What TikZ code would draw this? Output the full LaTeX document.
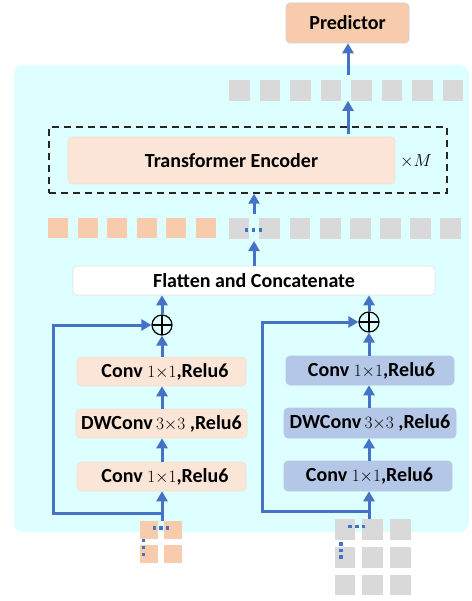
\documentclass[tikz,border=0pt]{standalone}
\usepackage{fontspec}
\setmainfont{Carlito}
\usetikzlibrary{arrows.meta}
\definecolor{cyanbg}{HTML}{DDFFFF}
\definecolor{peach}{HTML}{F8CBAD}
\definecolor{lpeach}{HTML}{FBE5D6}
\definecolor{lblue}{HTML}{B4C7E7}
\definecolor{sqgray}{HTML}{D9D9D9}
\definecolor{arrblue}{HTML}{4472C4}
\definecolor{bord}{HTML}{D0D0D0}
\tikzset{
  box/.style={rounded corners=4pt, draw=bord, line width=0.6pt, inner sep=0pt, font=\bfseries\fontsize{20}{24}\selectfont},
  arr/.style={draw=arrblue, line width=3pt, -{Triangle[length=10pt,width=11pt]}},
  sq/.style={inner sep=0pt, minimum size=20.5pt, fill=sqgray},
  psq/.style={inner sep=0pt, minimum size=20pt, fill=peach},
  dotsq/.style={fill=arrblue},
  plus/.style={circle, draw=black, line width=1.2pt, minimum size=20pt, inner sep=0pt,
    path picture={\draw[line width=1.2pt] (path picture bounding box.north) -- (path picture bounding box.south) (path picture bounding box.west) -- (path picture bounding box.east);}}
}
\newcommand{\bdot}[2]{\fill[dotsq] (#1-1.6,#2-1.6) rectangle (#1+1.6,#2+1.6);}
\newcommand{\mth}[1]{\mbox{\mdseries\fontsize{16}{18}\selectfont$#1$}}
\begin{document}
\begin{tikzpicture}[x=1pt,y=-1pt]
\useasboundingbox (0,0) rectangle (471,601);
% background
\fill[cyanbg, rounded corners=9pt] (14,65) rectangle (469,532);

% predictor
\node[box, fill=peach, minimum width=123pt, minimum height=40pt] (pred) at (347.5,23) {Predictor};

% top gray row
\foreach \i/\x in {1/229,2/259.5,3/290,4/320.5,5/351,6/381.5,7/412,8/442.5}
  \node[sq, anchor=north west] (t\i) at (\x,80) {};

% dashed box and encoder
\node[draw=black!85, dashed, dash pattern=on 7pt off 5pt, line width=1.5pt, minimum width=398pt, minimum height=66pt, inner sep=0pt] (dash) at (248,160) {};
\node[box, fill=lpeach, draw=lpeach!80!bord, minimum width=327pt, minimum height=47pt] (enc) at (231.5,160.5) {Transformer Encoder};
\node[font=\fontsize{17}{20}\selectfont] (xm) at (416,161) {$\times M$};

% second row
\foreach \i/\x in {1/48,2/77.5,3/107,4/136.5,5/166,6/196}
  \node[psq, anchor=north west] (p\i) at (\x,218) {};
\foreach \i/\x in {1/228.5,2/259,3/289.5,4/320,5/350,6/380,7/410,8/440}
  \node[sq, anchor=north west] (g\i) at (\x,218) {};
\bdot{246.7}{230}\bdot{253.7}{230}\bdot{260.3}{230}

% flatten
\node[box, fill=white, draw=black!12, minimum width=362pt, minimum height=29pt] (flat) at (254,280.5) {Flatten and Concatenate};

% left branch
\node[box, fill=lpeach, draw=lpeach!80!bord, minimum width=169pt, minimum height=29pt] (L3) at (161.5,371.5) {\hspace{7pt}Conv \mth{1{\times}1},Relu6};
\node[box, fill=lpeach, draw=lpeach!80!bord, minimum width=171pt, minimum height=29pt] (L2) at (161.5,423.5) {DWConv\,\mth{3{\times}3} ,Relu6};
\node[box, fill=lpeach, draw=lpeach!80!bord, minimum width=169pt, minimum height=29pt] (L1) at (161.5,476.5) {\hspace{7pt}Conv \mth{1{\times}1},Relu6};
\node[plus] (pL) at (162,325) {};

% right branch
\node[box, fill=lblue, draw=lblue!90!bord, minimum width=168pt, minimum height=29pt] (R3) at (370,370.5) {\hspace{3pt}Conv \mth{1{\times}1},Relu6};
\node[box, fill=lblue, draw=lblue!90!bord, minimum width=172pt, minimum height=30pt] (R2) at (370,423) {DWConv\,\mth{3{\times}3} ,Relu6};
\node[box, fill=lblue, draw=lblue!90!bord, minimum width=168pt, minimum height=30pt] (R1) at (368,476) {\hspace{3pt}Conv \mth{1{\times}1},Relu6};
\node[plus] (pR) at (369,322) {};

% left input squares
\node[inner sep=0pt, minimum size=17.5pt, fill=peach, anchor=north west] (a1) at (140,521) {};
\node[inner sep=0pt, minimum size=17.5pt, fill=peach, anchor=north west] (a2) at (164,521) {};
\node[inner sep=0pt, minimum size=17.5pt, fill=peach, anchor=north west] (a3) at (140,545) {};
\node[inner sep=0pt, minimum size=17.5pt, fill=peach, anchor=north west] (a4) at (164,545) {};
\bdot{154.3}{528}\bdot{161}{528}\bdot{167.7}{528}
\bdot{143.7}{540.7}\bdot{143.7}{547.7}\bdot{143.7}{554.3}

% right input squares
\foreach \r/\y in {1/519,2/547,3/574.5}
  \foreach \c/\x in {1/334.3,2/362,3/390}
    \node[inner sep=0pt, minimum size=20.7pt, fill=sqgray, anchor=north west] (b\r\c) at (\x,\y) {};
\bdot{350}{526.7}\bdot{357}{526.7}\bdot{363.7}{526.7}
\bdot{341}{544}\bdot{341}{550.7}\bdot{341}{557}

% connectors left
\coordinate (inL) at (162,521);
\coordinate (skL) at (162,513);
\draw[arr] (inL) -- (L1.south -| inL);
\draw[arr] (L1.north -| inL) -- (L2.south -| inL);
\draw[arr] (L2.north -| inL) -- (L3.south -| inL);
\draw[arr] (L3.north -| inL) -- (pL.south);
\draw[arr] (skL) -- (53,513) -- (53,325) -- (pL.west);
\draw[arr] (pL.north) -- (pL.north |- flat.south);

% connectors right
\coordinate (inR) at (369,519);
\coordinate (skR) at (369,511);
\draw[arr] (inR) -- (R1.south -| inR);
\draw[arr] (R1.north -| inR) -- (R2.south -| inR);
\draw[arr] (R2.north -| inR) -- (R3.south -| inR);
\draw[arr] (R3.north -| inR) -- (pR.south);
\draw[arr] (skR) -- (262,511) -- (262,322) -- (pR.west);
\draw[arr] (pR.north) -- (pR.north |- flat.south);

% upper connectors
\coordinate (c1) at (254,241);
\coordinate (c2) at (254,214);
\draw[arr] (flat.north -| c1) -- (c1);
\draw[arr] (c2) -- (c2 |- dash.south);
\coordinate (c3) at (348,134);
\coordinate (c4) at (348,75);
\draw[arr] (c3) -- (c3 |- t5.south);
\draw[arr] (c4) -- (c4 |- pred.south);
\end{tikzpicture}
\end{document}
